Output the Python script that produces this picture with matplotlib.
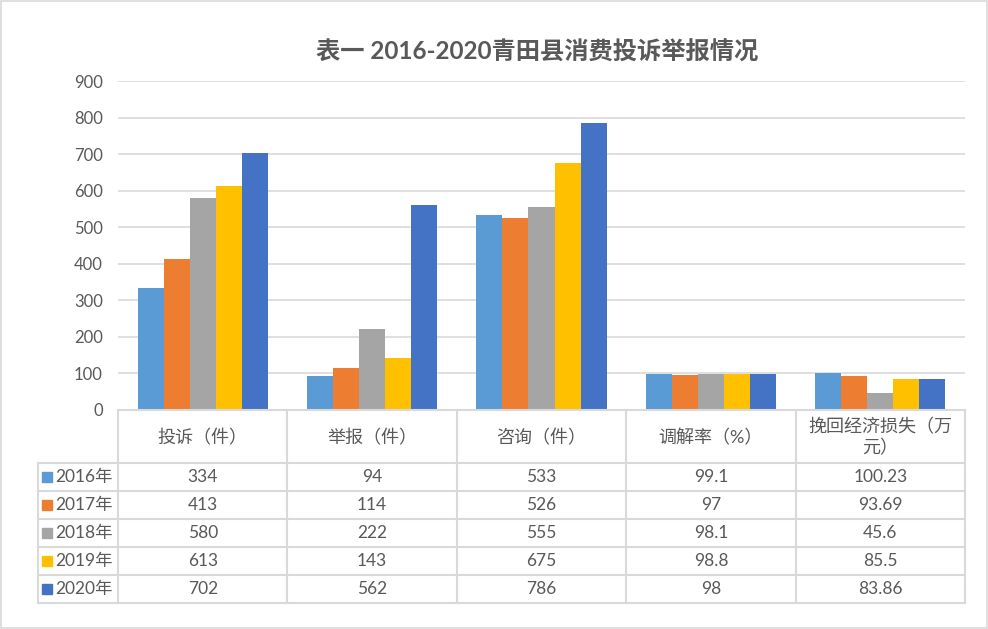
import matplotlib.pyplot as plt
import numpy as np

plt.rcParams['font.family'] = ['Lato', 'Noto Sans CJK SC', 'DejaVu Sans']

categories = ['投诉（件）', '举报（件）', '咨询（件）', '调解率（%）', '挽回经济损失（万\n元）']
years = ['2016年', '2017年', '2018年', '2019年', '2020年']
v2016 = [334, 94, 533, 99.1, 100.23]
v2017 = [413, 114, 526, 97, 93.69]
v2018 = [580, 222, 555, 98.1, 45.6]
v2019 = [613, 143, 675, 98.8, 85.5]
v2020 = [702, 562, 786, 98, 83.86]
series = [v2016, v2017, v2018, v2019, v2020]
colors = ['#5B9BD5', '#ED7D31', '#A5A5A5', '#FFC000', '#4472C4']
yticks = list(range(0, 1000, 100))

W, H = 988, 629
txt = '#595959'
grid = '#d9d9d9'

fig = plt.figure(figsize=(W / 100, H / 100), dpi=100)

# plot area in pixels
L, R, T, B = 118, 965, 81, 410
ax = fig.add_axes([L / W, 1 - B / H, (R - L) / W, (B - T) / H])
n = len(series)
bw = 1 / (n + 1.5)
x = np.arange(len(categories))
for i, (vals, c) in enumerate(zip(series, colors)):
    ax.bar(x + (i - (n - 1) / 2) * bw, vals, bw, color=c, zorder=3)
ax.set_xlim(-0.5, len(categories) - 0.5)
ax.set_ylim(0, 900)
ax.set_yticks(yticks)
ax.set_xticks([])
ax.tick_params(axis='y', length=0, pad=11, labelsize=12, labelcolor=txt)
ax.yaxis.grid(True, color=grid, linewidth=1.2, zorder=0)
for s in ax.spines.values():
    s.set_visible(False)

# overlay in pixel coords for border, title and table
ov = fig.add_axes([0, 0, 1, 1], zorder=-1)
ov.set_xlim(0, W)
ov.set_ylim(H, 0)
ov.axis('off')
ov.add_patch(plt.Rectangle((1, 1), W - 2, H - 2, fill=False, ec='#d9d9d9', lw=1.2))
ov.text(537, 52, '表一 2016-2020青田县消费投诉举报情况', ha='center', va='center',
        fontsize=17.5, fontweight='bold', color=txt)

tab = fig.add_axes([0, 0, 1, 1])
tab.set_xlim(0, W)
tab.set_ylim(H, 0)
tab.axis('off')
cw = (R - L) / len(categories)
head_b = 463
rh = 28
leg_l = 38
rows_b = head_b + rh * len(years)
lw = 1.5
tab.plot([L, R], [B, B], color=grid, lw=lw)
for k in range(len(years) + 1):
    yy = head_b + k * rh
    tab.plot([leg_l, R], [yy, yy], color=grid, lw=lw)
for j in range(len(categories) + 1):
    xx = L + j * cw
    tab.plot([xx, xx], [B, rows_b], color=grid, lw=lw)
tab.plot([leg_l, leg_l], [head_b, rows_b], color=grid, lw=lw)

for j, cat in enumerate(categories):
    tab.text(L + (j + 0.5) * cw, (B + head_b) / 2 + 1, cat, ha='center', va='center',
             fontsize=13, color=txt, linespacing=1.25)
for k, (yr, vals, c) in enumerate(zip(years, series, colors)):
    yc = head_b + (k + 0.5) * rh
    tab.add_patch(plt.Rectangle((42, yc - 5), 10, 10, color=c))
    tab.text(55, yc, yr, ha='left', va='center', fontsize=12.5, color=txt)
    for j, v in enumerate(vals):
        tab.text(L + (j + 0.5) * cw, yc, f'{v:g}', ha='center', va='center',
                 fontsize=12.5, color=txt)

plt.savefig('out.png', dpi=100)
